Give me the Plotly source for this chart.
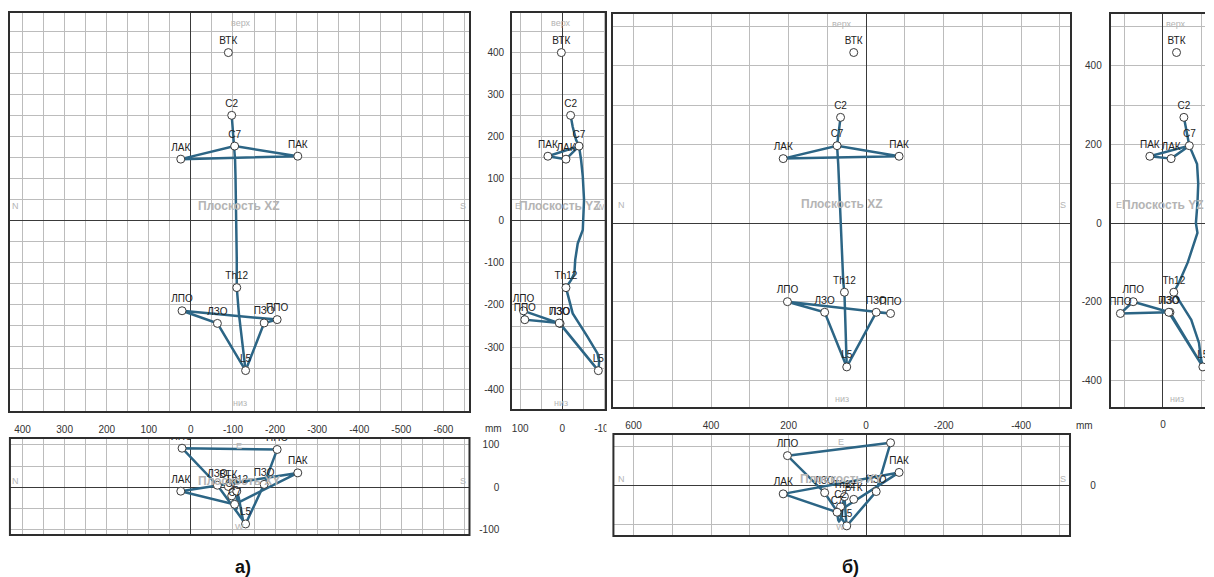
import plotly.graph_objects as go

# ---------------- data ----------------
names = ["ВТК", "C2", "C7", "ЛАК", "ПАК", "Th12", "ЛПО", "ЛЗО", "ПЗО", "ППО", "L5"]

# subject a)  (mm)
a_x = [-89, -97, -104, 24, -254, -109, 21, -63, -174, -205, -130]
a_y = [2, -20, -40, -9, 34, -9, 92, 5, 7, 89, -86]
a_z = [399, 250, 177, 146, 153, -159, -214, -244, -243, -235, -356]

# subject б)  (mm)
b_x = [32, 66, 75, 214, -85, 56, 203, 107, -26, -63, 50]
b_y = [-35, -54, -68, -21, 34, -28, 77, -18, -15, 110, -103]
b_z = [434, 269, 197, 164, 170, -176, -200, -227, -227, -230, -366]

# spine curves (C2 -> C7 -> Th12 -> L5)
spine_a_x = [-97, -99, -102, -104, -105, -106, -107, -108, -109, -109, -109, -109, -109, -109, -114, -120, -125, -128, -130]
spine_a_y = [-20, -25, -33, -40, -45, -49, -52, -51, -49, -37, -31, -29, -21, -9, -25, -60, -84, -88, -86]
spine_a_z = [250, 223, 192, 177, 144, 105, 49, 10, -22, -54, -93, -125, -141, -159, -220, -275, -315, -335, -356]

spine_b_x = [66, 70, 75, 72, 70, 68, 66, 65, 64, 62, 59, 56, 55, 54, 52, 51, 50]
spine_b_y = [-54, -60, -68, -88, -91, -89, -85, -89, -80, -64, -42, -28, -50, -73, -93, -98, -103]
spine_b_z = [269, 235, 197, 150, 100, 50, 0, -25, -50, -100, -150, -176, -210, -246, -305, -345, -366]

shoulder_loop = ["ЛАК", "C7", "ПАК", "ЛАК"]
pelvis_loop = ["ЛПО", "ЛЗО", "L5", "ПЗО", "ППО", "ЛПО"]

# tick labels
a_xticks = [400, 300, 200, 100, 0, -100, -200, -300, -400, -500, -600]
a_zticks = [400, 300, 200, 100, 0, -100, -200, -300, -400]
a_yticks = [100, 0, -100]
b_xticks = [600, 400, 200, 0, -200, -400]
b_zticks = [400, 200, 0, -200, -400]
b_yticks = [0]

# ---------------- style ----------------
W, H = 1214, 577
FONT = "Liberation Sans Narrow, Liberation Sans, Arial, sans-serif"
LINE_C = "#2c6585"
GRID = "#bcbcbc"
ZERO = "#3a3a3a"
FRAME = "#2e2e2e"
FAINT = "#b4b4b4"
TICKFONT = dict(family=FONT, size=10, color="#333333")


def fx(px):
    return px / W


def fy(py):
    return 1 - py / H


def seq(coord, loop):
    return [coord[names.index(n)] for n in loop]


def axis(dom, rng, dtick=None, minor=None, ticks=None, side=None, standoff=None,
         showline=True, mirror=True, anchor=None, position=None):
    d = dict(domain=dom, range=rng, autorange=False, showgrid=True, gridcolor=GRID,
             gridwidth=1, zeroline=True, zerolinecolor=ZERO, zerolinewidth=1,
             showline=showline, linecolor=FRAME, linewidth=2, mirror=mirror,
             ticks="", tickfont=TICKFONT, fixedrange=True)
    if ticks is not None:
        d.update(tickmode="array", tickvals=ticks, ticktext=[str(v) for v in ticks],
                 showticklabels=True)
    else:
        d.update(tickmode="linear", tick0=0, dtick=dtick, showticklabels=False)
    if minor:
        d["minor"] = dict(tickmode="linear", tick0=0, dtick=minor, showgrid=True,
                          gridcolor=GRID, gridwidth=1, ticks="")
    if side:
        d["side"] = side
    if standoff is not None:
        d["ticklabelstandoff"] = standoff
    if anchor:
        d["anchor"] = anchor
    if position is not None:
        d["position"] = position
    return d


fig = go.Figure()

panels = [
    # (xaxis, yaxis, horiz coords, vert coords, spine h, spine v)
    ("x", "y", a_x, a_z, spine_a_x, spine_a_z),
    ("x2", "y2", a_y, a_z, spine_a_y, spine_a_z),
    ("x3", "y3", a_x, a_y, spine_a_x, spine_a_y),
    ("x4", "y4", b_x, b_z, spine_b_x, spine_b_z),
    ("x5", "y5", b_y, b_z, spine_b_y, spine_b_z),
    ("x6", "y6", b_x, b_y, spine_b_x, spine_b_y),
]

for xa, ya, h, v, sh, sv in panels:
    lx = seq(h, shoulder_loop) + [None] + seq(h, pelvis_loop) + [None] + sh
    ly = seq(v, shoulder_loop) + [None] + seq(v, pelvis_loop) + [None] + sv
    fig.add_trace(go.Scatter(x=lx, y=ly, xaxis=xa, yaxis=ya, mode="lines",
                             line=dict(color=LINE_C, width=2.5), hoverinfo="skip"))
    fig.add_trace(go.Scatter(x=h, y=v, xaxis=xa, yaxis=ya, mode="markers+text",
                             text=names, textposition="top center",
                             textfont=dict(family=FONT, size=10, color="#222222"),
                             marker=dict(size=8, color="white",
                                         line=dict(color="#3a3a3a", width=1)),
                             hoverinfo="skip"))

layout = dict(
    width=W, height=H, autosize=False, margin=dict(l=0, r=0, t=0, b=0, pad=0),
    paper_bgcolor="white", plot_bgcolor="white", showlegend=False,
    # a) XZ
    xaxis=axis([fx(10), fx(473)], [430, -662], dtick=50, anchor="y"),
    yaxis=axis([fy(411), fy(13)], [-452, 493], dtick=50, anchor="x"),
    # a) YZ
    xaxis2=axis([fx(516), fx(610)], [119, -103], ticks=a_yticks, minor=50,
                standoff=9, anchor="y2"),
    yaxis2=axis([fy(409), fy(13)], [-447, 493], ticks=a_zticks, minor=50,
                standoff=4, anchor="x2"),
    # a) XY
    xaxis3=axis([fx(10), fx(473)], [430, -662], ticks=a_xticks, minor=50, side="top",
                standoff=2, showline=False, anchor="y3"),
    yaxis3=axis([fy(535), fy(438)], [-112, 116], ticks=a_yticks, minor=50,
                showline=False, anchor="free", position=fx(503), side="left"),
    # б) XZ
    xaxis4=axis([fx(618), fx(1078)], [652, -526], dtick=100, anchor="y4"),
    yaxis4=axis([fy(407), fy(14)], [-468, 532], dtick=100, anchor="x4"),
    # б) YZ
    xaxis5=axis([fx(1119), 1.0], [135, -108.5], ticks=b_yticks, minor=100,
                standoff=7, anchor="y5"),
    yaxis5=axis([fy(407), fy(14)], [-468, 532], ticks=b_zticks, minor=100,
                standoff=5, mirror=False, anchor="x5"),
    # б) XY
    xaxis6=axis([fx(618), fx(1078)], [652, -526], ticks=b_xticks, minor=100, side="top",
                standoff=2, showline=False, anchor="y6"),
    yaxis6=axis([fy(536), fy(434)], [-129, 132.5], ticks=b_yticks, minor=100,
                showline=False, anchor="free", position=fx(1104), side="left"),
)
fig.update_layout(**layout)

# frames of XY panels
for xa, ya in [("x3", "y3"), ("x6", "y6")]:
    fig.add_shape(type="rect", xref=xa + " domain", yref=ya + " domain",
                  x0=0, x1=1, y0=0, y1=1, line=dict(color=FRAME, width=2), layer="above")

# clip of the a) YZ tick label under the б) picture
fig.add_shape(type="rect", xref="paper", yref="paper", x0=fx(611), x1=fx(628),
              y0=fy(433), y1=fy(416), fillcolor="white", line=dict(width=0), layer="above")

faint = [
    # a) XZ
    ("верх", 243, 23, False), ("низ", 242, 403, False), ("N", 16, 206, False),
    ("S", 466, 206, False), ("Плоскость XZ", 241, 206, True),
    # a) YZ
    ("верх", 565, 23, False), ("низ", 565, 403, False), ("E", 522, 206, False),
    ("Плоскость YZ", 564, 206, True), ("W", 605, 207, False),
    # a) XY
    ("E", 241, 446, False), ("W", 241, 527, False), ("N", 16, 481, False),
    ("S", 466, 481, False), ("Плоскость XY", 241, 481, True),
    # б) XZ
    ("верх", 848, 24, False), ("низ", 848, 399, False), ("N", 626, 205, False),
    ("S", 1071, 205, False), ("Плоскость XZ", 848, 204, True),
    # б) YZ
    ("верх", 1185, 24, False), ("низ", 1186, 399, False), ("E", 1127, 205, False),
    ("Плоскость YZ", 1172, 205, True),
    # б) XY
    ("E", 847, 442, False), ("W", 847, 527, False), ("N", 626, 479, False),
    ("S", 1071, 479, False), ("Плоскость XY", 847, 479, True),
]
for t, px, py, bold in faint:
    fig.add_annotation(text=("<b>%s</b>" % t) if bold else t, x=fx(px), y=fy(py),
                       xref="paper", yref="paper", showarrow=False,
                       xanchor="center", yanchor="middle",
                       font=dict(family=FONT, size=12 if bold else 9, color=FAINT))

for t, px, py in [("mm", 497, 428), ("mm", 1093, 425)]:
    fig.add_annotation(text=t, x=fx(px), y=fy(py), xref="paper", yref="paper",
                       showarrow=False, xanchor="center", yanchor="middle",
                       font=dict(family=FONT, size=10, color="#333333"))

for t, px in [("а)", 245), ("б)", 857)]:
    fig.add_annotation(text="<b>%s</b>" % t, x=fx(px), y=fy(567), xref="paper",
                       yref="paper", showarrow=False, xanchor="center", yanchor="middle",
                       font=dict(family="Liberation Sans, Arial, sans-serif", size=18,
                                 color="#111111"))

fig.write_html(
    "out.html",
    config={"displayModeBar": False},
    post_script="document.documentElement.style.margin='0';"
                "document.documentElement.style.overflow='hidden';"
                "document.body.style.margin='0';document.body.style.padding='0';"
                "document.body.style.overflow='hidden';",
)
